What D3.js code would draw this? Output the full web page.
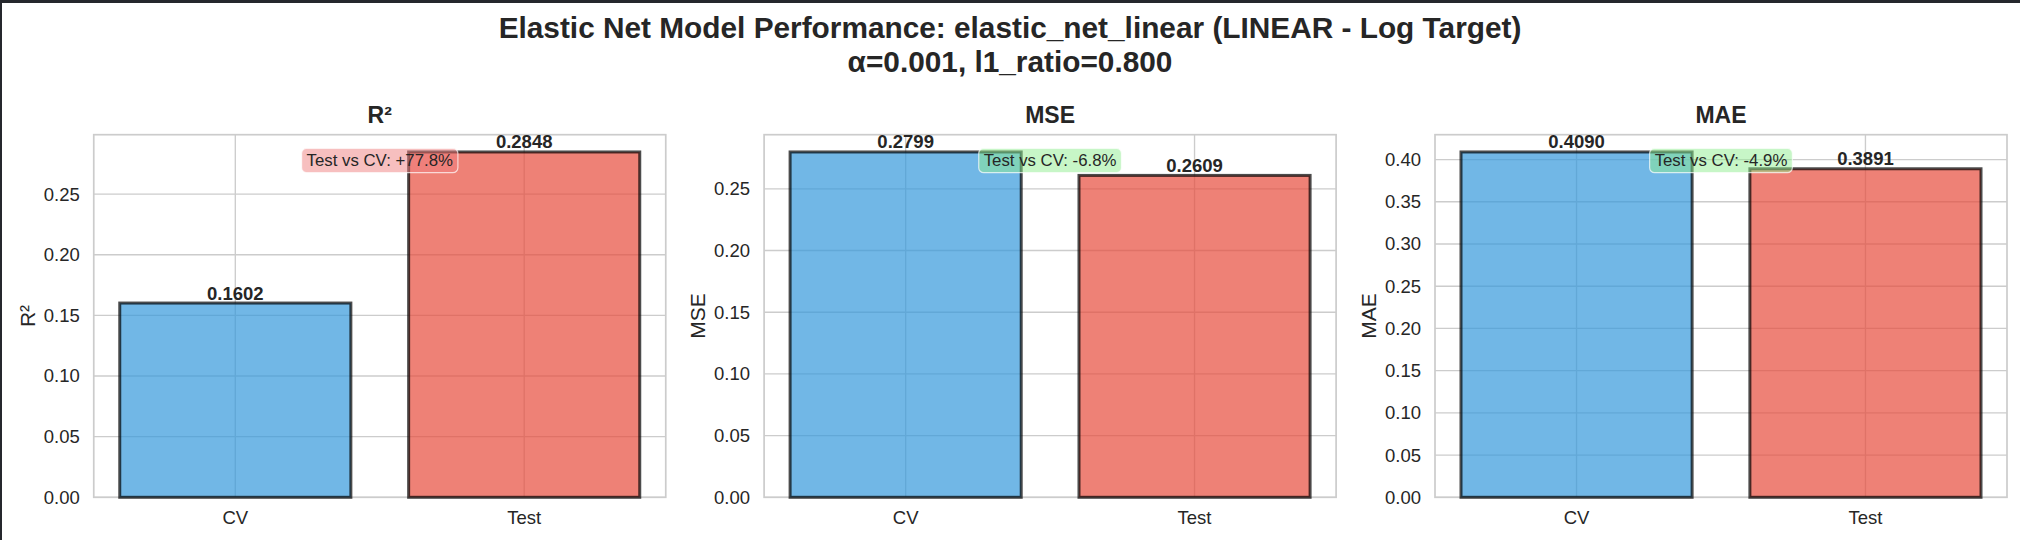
<!DOCTYPE html>
<html>
<head>
<meta charset="utf-8">
<script src="https://cdn.jsdelivr.net/npm/d3@7"></script>
<style>
  html, body { margin: 0; padding: 0; background: #ffffff; }
  svg { display: block; font-family: "Liberation Sans", Arial, Helvetica, sans-serif; }
</style>
</head>
<body>
<svg id="chart" width="2020" height="540"></svg>
<script>
// ---- Data ----
const titleLines = ["Elastic Net Model Performance: elastic_net_linear (LINEAR - Log Target)", "α=0.001, l1_ratio=0.800"];
const categories = ["CV", "Test"];
const metrics = ["R²", "MSE", "MAE"];
const cvValues = [0.1602, 0.2799, 0.4090];
const testValues = [0.2848, 0.2609, 0.3891];
const diffLabels = ["Test vs CV: +77.8%", "Test vs CV: -6.8%", "Test vs CV: -4.9%"];
const diffColors = ["#f08080", "#90ee90", "#90ee90"];
const barColors = ["#3498db", "#e74c3c"];
const yTicksR2 = [0, 0.05, 0.10, 0.15, 0.20, 0.25];
const yTicksMSE = [0, 0.05, 0.10, 0.15, 0.20, 0.25];
const yTicksMAE = [0, 0.05, 0.10, 0.15, 0.20, 0.25, 0.30, 0.35, 0.40];
const yTicks = [yTicksR2, yTicksMSE, yTicksMAE];

// ---- Layout ----
const W = 2020, H = 540;
const axLefts = [93.75, 764.1, 1435];
const axW = 572, axTop = 134.7, axBottom = 497.3;
const textColor = "#262626";
const gridColor = "#cccccc";

const svg = d3.select("#chart");
svg.append("rect").attr("x", 0).attr("y", 0).attr("width", W).attr("height", H).attr("fill", "#ffffff");

// Suptitle
svg.selectAll("text.suptitle").data(titleLines).join("text")
  .attr("class", "suptitle")
  .attr("x", W / 2)
  .attr("y", (d, i) => 38 + i * 34)
  .attr("text-anchor", "middle")
  .attr("font-size", 29.8)
  .attr("font-weight", "bold")
  .attr("fill", textColor)
  .text(d => d);

metrics.forEach((metric, mi) => {
  const values = [cvValues[mi], testValues[mi]];
  const left = axLefts[mi];
  const x = d3.scaleBand().domain(categories).range([left, left + axW]).paddingInner(0.2).paddingOuter(0.09);
  const y = d3.scaleLinear().domain([0, d3.max(values) * 1.05]).range([axBottom, axTop]);
  const g = svg.append("g");

  // grid
  g.append("g").selectAll("line").data(yTicks[mi]).join("line")
    .attr("x1", left).attr("x2", left + axW)
    .attr("y1", d => y(d)).attr("y2", d => y(d))
    .attr("stroke", gridColor).attr("stroke-width", 1.35);
  g.append("g").selectAll("line").data(categories).join("line")
    .attr("x1", d => x(d) + x.bandwidth() / 2).attr("x2", d => x(d) + x.bandwidth() / 2)
    .attr("y1", axTop).attr("y2", axBottom)
    .attr("stroke", gridColor).attr("stroke-width", 1.35);

  // spines
  g.append("rect").attr("x", left).attr("y", axTop).attr("width", axW).attr("height", axBottom - axTop)
    .attr("fill", "none").attr("stroke", gridColor).attr("stroke-width", 1.7);

  // axes (tick labels)
  const yAxis = d3.axisLeft(y).tickValues(yTicks[mi]).tickFormat(d3.format(".2f")).tickSize(0).tickPadding(14);
  const ya = g.append("g").attr("transform", `translate(${left},0)`).call(yAxis);
  ya.select(".domain").remove();
  ya.selectAll("text").attr("font-size", 18.5).attr("fill", textColor).attr("font-family", "Liberation Sans, Arial, sans-serif");

  const xAxis = d3.axisBottom(x).tickSize(0).tickPadding(14);
  const xa = g.append("g").attr("transform", `translate(0,${axBottom})`).call(xAxis);
  xa.select(".domain").remove();
  xa.selectAll("text").attr("font-size", 18.5).attr("fill", textColor).attr("font-family", "Liberation Sans, Arial, sans-serif");

  // bars
  g.append("g").selectAll("rect").data(values).join("rect")
    .attr("x", (d, i) => x(categories[i]))
    .attr("width", x.bandwidth())
    .attr("y", d => y(d))
    .attr("height", d => y(0) - y(d))
    .attr("fill", (d, i) => barColors[i]).attr("fill-opacity", 0.7)
    .attr("stroke", "#000").attr("stroke-opacity", 0.7).attr("stroke-width", 3);

  // value labels
  g.append("g").selectAll("text").data(values).join("text")
    .attr("x", (d, i) => x(categories[i]) + x.bandwidth() / 2)
    .attr("y", d => y(d) - 3.5)
    .attr("text-anchor", "middle")
    .attr("font-size", 18.5).attr("font-weight", "bold").attr("fill", textColor)
    .text(d => d3.format(".4f")(d));

  // subplot title
  g.append("text").attr("x", left + axW / 2).attr("y", axTop - 11.4)
    .attr("text-anchor", "middle").attr("font-size", 23).attr("font-weight", "bold").attr("fill", textColor)
    .text(metric);

  // y label
  g.append("text").attr("transform", `translate(${left - 59},${(axTop + axBottom) / 2}) rotate(-90)`)
    .attr("text-anchor", "middle").attr("font-size", 21).attr("fill", textColor)
    .text(metric);

  // diff annotation
  const cx = left + axW / 2;
  const ann = g.append("g");
  const box = ann.append("rect");
  const t = ann.append("text").attr("x", cx).attr("y", axTop + 31)
    .attr("text-anchor", "middle").attr("font-size", 16.8).attr("fill", textColor)
    .text(diffLabels[mi]);
  const tw = t.node().getComputedTextLength();
  box.attr("x", cx - tw / 2 - 5).attr("width", tw + 10)
    .attr("y", axTop + 13.6).attr("height", 24.4)
    .attr("rx", 5).attr("ry", 5)
    .attr("fill", diffColors[mi]).attr("fill-opacity", 0.5)
    .attr("stroke", "#ffffff").attr("stroke-opacity", 0.7).attr("stroke-width", 1.2);
});

// dark frame (top and left edges)
svg.append("rect").attr("x", 0).attr("y", 0).attr("width", W).attr("height", 3).attr("fill", "#25272d");
svg.append("rect").attr("x", 0).attr("y", 0).attr("width", 2).attr("height", H).attr("fill", "#25272d");
</script>
</body>
</html>
